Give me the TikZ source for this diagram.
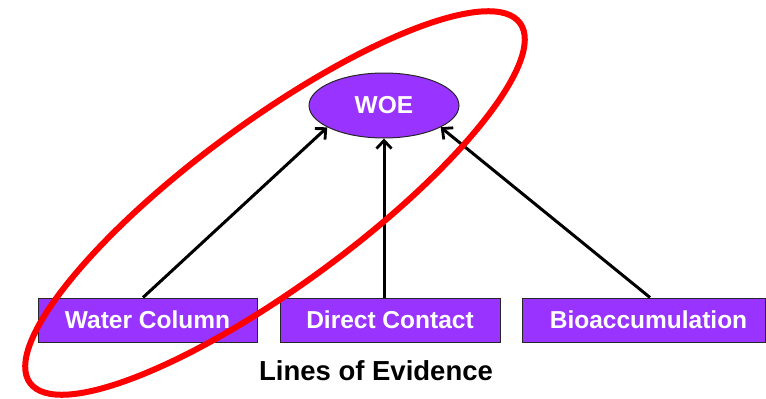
\documentclass[tikz,border=0pt]{standalone}
\usepackage{fontspec}
\setmainfont{Liberation Sans}
\usetikzlibrary{arrows.meta,shapes.geometric}
\definecolor{boxpurple}{RGB}{153,51,255}
\tikzset{
  lob/.style={draw=black!85, line width=1pt, fill=boxpurple, text=white,
    font=\fontsize{24.5}{28}\selectfont\bfseries, minimum height=44pt, inner sep=0pt},
  link/.style={line width=3pt, -{Straight Barb[length=8pt,width=15pt,line width=2.8pt]}},
}
\begin{document}
\begin{tikzpicture}[x=1pt,y=-1pt]
\useasboundingbox (0,0) rectangle (766,399);
\node[ellipse, draw=black!85, line width=1pt, fill=boxpurple, text=white,
  font=\fontsize{24.5}{28}\selectfont\bfseries, minimum width=150pt, minimum height=65pt, inner sep=0pt] (woe) at (384,105.5) {WOE};
\node[lob, minimum width=219pt] (wc) at (147.5,320) {Water Column};
\node[lob, minimum width=220pt] (dc) at (390,320) {Direct Contact};
\node[lob, minimum width=243pt] (bio) at (643.5,320) {\hspace*{10pt}Bioaccumulation};
\node[font=\fontsize{27.5}{31}\selectfont\bfseries] (loe) at (376,371) {Lines of Evidence};
\draw[link] ([xshift=-4.5pt]wc.north) -- (woe.201);
\draw[link] ([xshift=-6pt]dc.north) -- (woe.south);
\draw[link] ([xshift=6.5pt]bio.north) -- (woe.339);
\coordinate (rc) at (275,203);
\draw[red, line width=6pt, rotate around={36.3:(rc)}] (rc) ellipse [x radius=304pt, y radius=82pt];
\end{tikzpicture}
\end{document}
